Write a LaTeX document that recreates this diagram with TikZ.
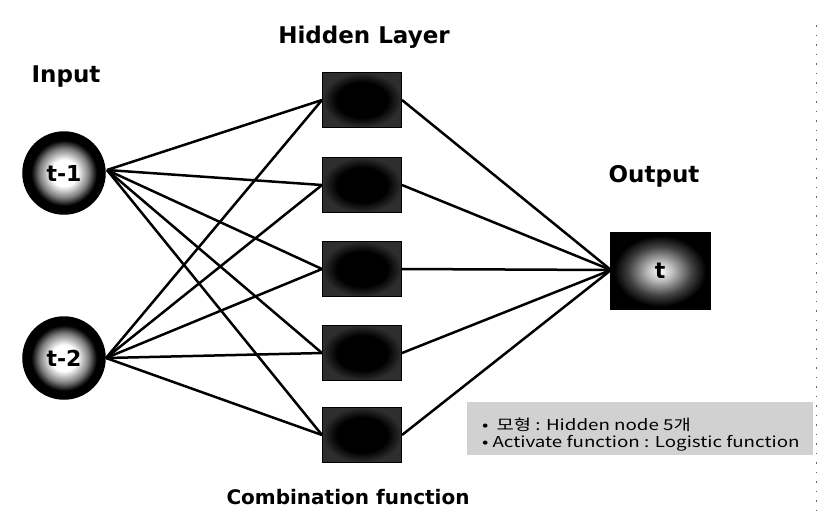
\documentclass[tikz,border=0pt]{standalone}
\usepackage{fontspec}
\setmainfont{DejaVu Sans}
\newfontfamily\labfont{DejaVu Sans}
\newfontfamily\korfont[FakeStretch=1.25]{Noto Sans CJK KR}
\pgfdeclareradialshading{ballshade}{\pgfpoint{0bp}{0bp}}{color(0bp)=(white); color(8bp)=(white); color(15bp)=(black!50); color(20bp)=(black); color(50bp)=(black)}
\pgfdeclareradialshading{outshade}{\pgfpoint{0bp}{0bp}}{color(0bp)=(white); color(6bp)=(black!25); color(16bp)=(black!75); color(23bp)=(black); color(50bp)=(black)}
\pgfdeclareradialshading{hidshade}{\pgfpoint{0bp}{0bp}}{color(0bp)=(black); color(16bp)=(black); color(25bp)=(black!82); color(50bp)=(black!82)}
\tikzset{
  inode/.style={circle, draw=black, line width=1.5pt, minimum size=82pt, inner sep=0pt, shading=ballshade, font=\labfont\bfseries\fontsize{22}{24}\selectfont},
  hnode/.style={rectangle, draw=black, line width=1pt, minimum width=79pt, minimum height=55pt, inner sep=0pt, shading=hidshade},
  onode/.style={rectangle, draw=black, line width=1pt, minimum width=100pt, minimum height=77pt, inner sep=0pt, shading=outshade, font=\labfont\bfseries\fontsize{22}{24}\selectfont},
  title/.style={font=\labfont\bfseries\fontsize{23}{26}\selectfont, inner sep=0pt},
  link/.style={line width=2.5pt, black},
  note/.style={font=\korfont\fontsize{15}{17}\selectfont, inner sep=0pt, anchor=west}
}
\begin{document}
\begin{tikzpicture}[x=1pt,y=-1pt]
\useasboundingbox (0,0) rectangle (818,512);
% note box background
\node[fill=black!18, minimum width=346pt, minimum height=53pt, inner sep=0pt] (notebox) at (640,428) {};
% nodes
\node[inode] (i1) at (64,173) {t-1};
\node[inode] (i2) at (64,358) {t-2};
\node[hnode] (h1) at (362,100) {};
\node[hnode] (h2) at (362,185) {};
\node[hnode] (h3) at (362,269) {};
\node[hnode] (h4) at (362,353) {};
\node[hnode] (h5) at (362,435) {};
\node[onode] (o) at (660,271) {t};
% connectors
\coordinate (p1) at (107,170);
\coordinate (p2) at (106,358);
\coordinate (q) at (611,270);
\foreach \h in {h1,h2,h3,h4,h5} {
  \draw[link] (p1) -- (\h.west);
  \draw[link] (p2) -- (\h.west);
  \draw[link] (\h.east) -- (q);
}
% titles
\node[title] (tin) at (66,77) {Input};
\node[title] (thid) at (364,37) {Hidden Layer};
\node[title] (tout) at (654,176) {Output};
\node[title, font=\labfont\bfseries\fontsize{20}{24}\selectfont] (tcomb) at (348,497) {Combination function};
% notes
\node[note] (n1) at (482,425) {•\hspace{8pt}모형 : Hidden node 5개};
\node[note] (n2) at (482,443) {•\hspace{4pt}Activate function : Logistic function};
% right edge dotted line
\draw[black!60, line width=1pt, dash pattern=on 1.5pt off 8pt] (816,25) -- (816,512);
\end{tikzpicture}
\end{document}
